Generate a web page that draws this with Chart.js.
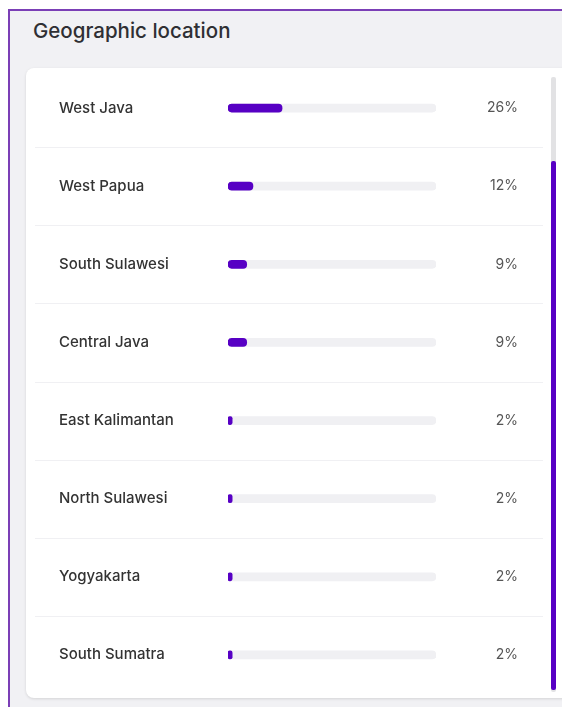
<!DOCTYPE html>
<html>
<head>
<meta charset="utf-8">
<script src="https://cdn.jsdelivr.net/npm/chart.js@4.4.1/dist/chart.umd.min.js"></script>
<style>
  html, body { margin: 0; padding: 0; background: #fff; width: 562px; height: 707px; overflow: hidden; }
  .panel {
    position: absolute; left: 8px; top: 9px; width: 600px; height: 720px;
    background: #f1f1f4; border-left: 2px solid #7b3fb6; border-top: 2px solid #7b3fb6;
  }
  .title {
    position: absolute; left: 33px; top: 18px; font-family: Inter, "Noto Sans", sans-serif;
    font-size: 20.5px; font-weight: 500; color: #2f2f33;
  }
  .card {
    position: absolute; left: 26px; top: 68px; width: 560px; height: 630px;
    background: #fff; border-radius: 8px; box-shadow: 0 1px 3px rgba(0,0,0,0.12);
  }
  .sbtrack { position: absolute; left: 551px; top: 77px; width: 5px; height: 615px; background: #e2e2e4; border-radius: 2px; }
  .sbthumb { position: absolute; left: 551px; top: 161px; width: 5px; height: 529px; background: #5700c4; border-radius: 2px; }
  .wrap { position: absolute; left: 35px; top: 60px; width: 508px; height: 643px; }
</style>
</head>
<body>
<div class="panel"></div>
<div class="title">Geographic location</div>
<div class="card"></div>
<div class="sbtrack"></div>
<div class="sbthumb"></div>
<div class="wrap"><canvas id="geo"></canvas></div>
<script>
  var regions = ["West Java", "West Papua", "South Sulawesi", "Central Java", "East Kalimantan", "North Sulawesi", "Yogyakarta", "South Sumatra"];
  var shares = [26, 12, 9, 9, 2, 2, 2, 2];
  var shareLabels = ["26%", "12%", "9%", "9%", "2%", "2%", "2%", "2%"];
  var trackMax = 100;

  // separators between rows, full card width
  var rowLines = {
    id: 'rowLines',
    beforeDatasetsDraw: function (chart) {
      var y = chart.scales.y, c = chart.ctx;
      c.save();
      c.strokeStyle = '#f0f0f3';
      c.lineWidth = 1;
      for (var i = 0; i < regions.length - 1; i++) {
        var py = Math.round((y.getPixelForValue(i) + y.getPixelForValue(i + 1)) / 2) + 0.5;
        c.beginPath();
        c.moveTo(0, py);
        c.lineTo(chart.width, py);
        c.stroke();
      }
      c.restore();
    }
  };

  var ctx = document.getElementById('geo');
  new Chart(ctx, {
    type: 'bar',
    data: {
      labels: regions,
      datasets: [{
        data: shares,
        backgroundColor: '#5700c4',
        barThickness: 8,
        borderRadius: 4,
        borderSkipped: false,
        grouped: false,
        order: 0
      }, {
        data: regions.map(function () { return trackMax; }),
        backgroundColor: '#f0f0f3',
        barThickness: 8,
        borderRadius: 4,
        borderSkipped: false,
        grouped: false,
        order: 1
      }]
    },
    options: {
      indexAxis: 'y',
      responsive: true,
      maintainAspectRatio: false,
      animation: false,
      layout: { padding: { left: 24, right: 25, top: 0, bottom: 0 } },
      plugins: { legend: { display: false }, tooltip: { enabled: false } },
      scales: {
        x: { display: false, min: 0, max: trackMax },
        y: {
          position: 'left',
          grid: { display: false },
          border: { display: false },
          afterFit: function (s) { s.width = 169; },
          ticks: { crossAlign: 'far', color: '#333', padding: 0, font: { family: 'Inter', size: 15, weight: 500 } }
        },
        y2: {
          type: 'category',
          position: 'right',
          labels: shareLabels,
          offset: true,
          grid: { display: false },
          border: { display: false },
          afterFit: function (s) { s.width = 82; },
          ticks: { crossAlign: 'far', color: '#555', padding: 0, font: { family: 'Inter', size: 14 } }
        }
      }
    },
    plugins: [rowLines]
  });
</script>
</body>
</html>
